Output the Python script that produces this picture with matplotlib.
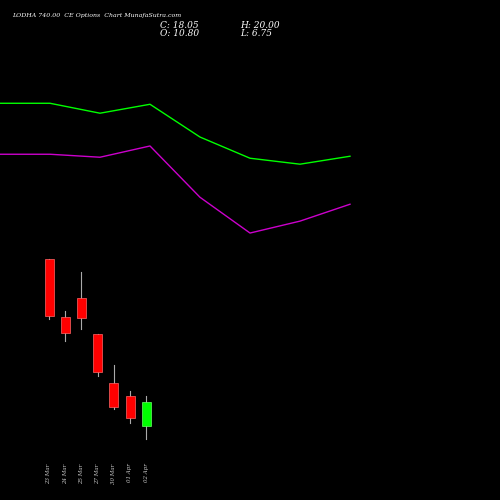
import matplotlib
matplotlib.use("Agg")
import matplotlib.pyplot as plt

# candle data
dates = ["23 Mar", "24 Mar", "25 Mar", "27 Mar", "30 Mar", "01 Apr", "02 Apr"]
opens = [61.2, 43.7, 49.5, 38.6, 23.8, 19.9, 10.80]
highs = [61.2, 45.5, 57.3, 38.6, 29.2, 21.4, 20.00]
lows = [43.1, 36.5, 40.1, 25.9, 15.9, 11.7, 6.75]
closes = [44.0, 38.9, 43.4, 27.1, 16.5, 13.2, 18.05]

# indicator lines
line_x = [0, 50, 100, 150, 200, 250, 300, 350]
green_line = [108.3, 108.3, 105.3, 108.0, 98.1, 91.7, 89.9, 92.3]
magenta_line = [92.9, 92.9, 92.0, 95.4, 79.9, 69.1, 72.7, 77.8]

fig = plt.figure(figsize=(5, 5), dpi=100, facecolor="black")
ax = fig.add_axes([0, 0, 1, 1], facecolor="black")
ax.set_xlim(0, 500)
ax.set_ylim(-11.55, 139.5)
ax.axis("off")

ax.plot(line_x, green_line, color="#00ff00", lw=1)
ax.plot(line_x, magenta_line, color="#cc00cc", lw=1)

for i, (o, h, l, c) in enumerate(zip(opens, highs, lows, closes)):
    x = 49 + 16.2 * i
    col = "#00ff00" if c >= o else "#ff0000"
    ax.plot([x, x], [l, h], color="#aaaaaa", lw=0.8, zorder=1)
    ax.bar(x, abs(c - o), bottom=min(o, c), width=9, color=col,
           edgecolor="#ff6666" if c < o else "#66ff66", lw=0.5, zorder=2)
    ax.text(x, -0.5, dates[i], rotation=90, color="#cccccc", fontsize=4,
            family="DejaVu Serif", style="italic", ha="center", va="top")

fig.text(0.024, 0.968, "LODHA 740.00  CE Options  Chart MunafaSutra.com", color="white",
         fontsize=4.5, family="DejaVu Serif", style="italic", va="center")
fig.text(0.32, 0.95, "C: 18.05", color="white", fontsize=6.5, family="DejaVu Serif", style="italic", va="center")
fig.text(0.32, 0.933, "O: 10.80", color="white", fontsize=6.5, family="DejaVu Serif", style="italic", va="center")
fig.text(0.48, 0.95, "H: 20.00", color="white", fontsize=6.5, family="DejaVu Serif", style="italic", va="center")
fig.text(0.48, 0.933, "L: 6.75", color="white", fontsize=6.5, family="DejaVu Serif", style="italic", va="center")

fig.savefig("out.png", dpi=100, facecolor="black")
